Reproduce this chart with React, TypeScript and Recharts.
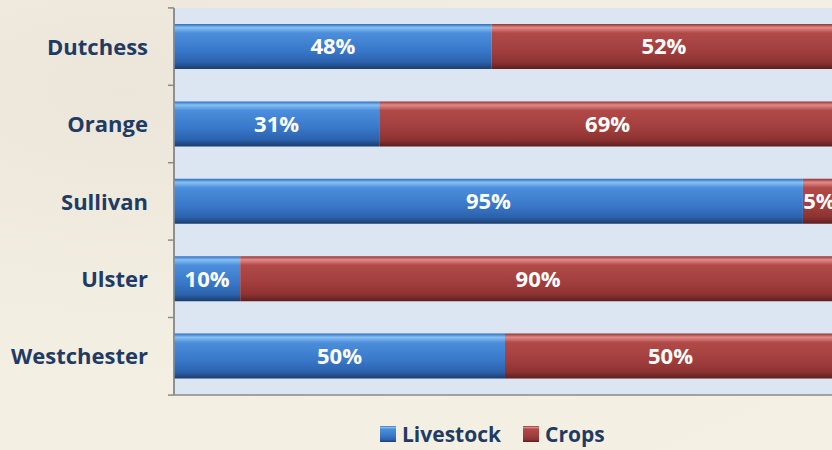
import React from "react";
import { BarChart, Bar, XAxis, YAxis, CartesianGrid, LabelList } from "recharts";

const counties = ["Dutchess", "Orange", "Sullivan", "Ulster", "Westchester"];
const livestock = [48, 31, 95, 10, 50];
const crops = [52, 69, 5, 90, 50];
const xTicks = [0, 20, 40, 60, 80, 100];
const seriesNames = ["Livestock", "Crops"];

const data = counties.map((c, i) => ({ county: c, livestock: livestock[i], crops: crops[i] }));

const CHART_W = 840;
const CHART_H = 450;
const M_TOP = 8;
const M_BOTTOM = 54;
const PLOT_H = CHART_H - M_TOP - M_BOTTOM;
const HALF_BAND = PLOT_H / counties.length / 2;

const FONT = "'Open Sans', sans-serif";
const NAVY = "#1f3b64";
const GRID = "#8a8a8a";

const CountyTick = (props: any) => {
  const { x, y, payload, index } = props;
  const isLast = index === counties.length - 1;
  return (
    <g>
      <line x1={x + 2} x2={x + 8} y1={y - HALF_BAND} y2={y - HALF_BAND} stroke={GRID} strokeWidth={1.5} />
      {isLast && (
        <line x1={x + 2} x2={x + 8} y1={y + HALF_BAND} y2={y + HALF_BAND} stroke={GRID} strokeWidth={1.5} />
      )}
      <text x={x - 18} y={y} dy={8} textAnchor="end" fill={NAVY} fontFamily={FONT} fontWeight={700} fontSize={22}>
        {payload.value}
      </text>
    </g>
  );
};

const pct = (v: any) => `${v}%`;

const legendColors = ["url(#gBlue)", "url(#gRed)"];

export default function App() {
  return (
    <div
      style={{
        position: "absolute",
        left: 0,
        top: 0,
        width: 832,
        height: 450,
        overflow: "hidden",
        background:
          "radial-gradient(ellipse at 15% 20%, #ece6da 0%, #f3eee2 45%, #f5f0e4 100%)",
      }}
    >
      <BarChart
        width={CHART_W}
        height={CHART_H}
        data={data}
        layout="vertical"
        margin={{ top: M_TOP, right: 4, bottom: M_BOTTOM, left: 0 }}
        barSize={45}
      >
        <defs>
          <linearGradient id="gBlue" x1="0" y1="0" x2="0" y2="1">
            <stop offset="0%" stopColor="#2e6cc0" />
            <stop offset="8%" stopColor="#86c0f2" />
            <stop offset="20%" stopColor="#4c8edb" />
            <stop offset="60%" stopColor="#3877c9" />
            <stop offset="85%" stopColor="#2c62ad" />
            <stop offset="100%" stopColor="#1b3c6c" />
          </linearGradient>
          <linearGradient id="gRed" x1="0" y1="0" x2="0" y2="1">
            <stop offset="0%" stopColor="#8f3533" />
            <stop offset="8%" stopColor="#e28a88" />
            <stop offset="20%" stopColor="#b04a48" />
            <stop offset="60%" stopColor="#a13e3d" />
            <stop offset="85%" stopColor="#8c3332" />
            <stop offset="100%" stopColor="#5c1f1f" />
          </linearGradient>
        </defs>
        <CartesianGrid fill="#dce6f2" stroke={GRID} strokeWidth={1.5} horizontal={false} />
        <XAxis
          type="number"
          domain={[0, 100]}
          ticks={xTicks}
          height={1}
          tick={false}
          tickLine={false}
          axisLine={{ stroke: GRID, strokeWidth: 1.5 }}
        />
        <YAxis
          type="category"
          dataKey="county"
          width={174}
          axisLine={{ stroke: GRID, strokeWidth: 1.5 }}
          tickLine={false}
          tick={<CountyTick />}
          interval={0}
        />
        <Bar dataKey="livestock" name={seriesNames[0]} stackId="a" fill="url(#gBlue)" isAnimationActive={false}>
          <LabelList
            dataKey="livestock"
            position="center"
            formatter={pct}
            fill="#ffffff"
            fontFamily={FONT}
            fontWeight={700}
            fontSize={22}
          />
        </Bar>
        <Bar dataKey="crops" name={seriesNames[1]} stackId="a" fill="url(#gRed)" isAnimationActive={false}>
          <LabelList
            dataKey="crops"
            position="center"
            formatter={pct}
            fill="#ffffff"
            fontFamily={FONT}
            fontWeight={700}
            fontSize={22}
          />
        </Bar>
      </BarChart>
      <div
        style={{
          position: "absolute",
          left: 380,
          top: 424,
          height: 20,
          lineHeight: "20px",
          display: "flex",
          alignItems: "center",
          fontFamily: FONT,
          fontWeight: 700,
          fontSize: 21,
          color: NAVY,
          whiteSpace: "nowrap",
        }}
      >
        {seriesNames.map((n, i) => (
          <span key={n} style={{ display: "inline-flex", alignItems: "center", marginRight: i === 0 ? 22 : 0 }}>
            <svg width={16} height={16} style={{ marginRight: 6 }}>
              <rect x={0} y={0} width={16} height={16} fill={legendColors[i]} />
            </svg>
            {n}
          </span>
        ))}
      </div>
    </div>
  );
}
